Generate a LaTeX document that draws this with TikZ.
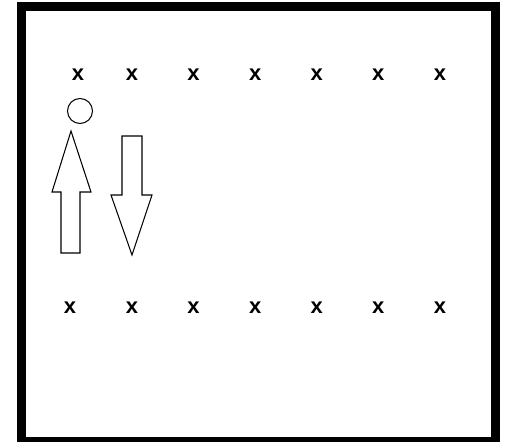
\documentclass[tikz,border=0pt]{standalone}
\usepackage{fontspec}
\setmainfont{Liberation Sans}
\usepackage{tikz}
\usetikzlibrary{positioning}

\begin{document}
\begin{tikzpicture}[
  x=0.02cm, y=-0.02cm,
  node distance=1.232cm and 1.232cm,
  seat/.style={inner sep=0pt, font=\fontsize{12.5}{14}\selectfont\bfseries},
  room/.style={draw=black, line width=0.18cm},
  thin/.style={draw=black, line width=0.6pt, fill=white},
]
\useasboundingbox (0,0) rectangle (505,442);

% Room walls
\draw[room] (21.5,6.5) rectangle (495.5,441.5);

% Bottom row
\node[seat] (b1) at (70,308) {x};
\node[seat] (b2) at (132,308) {x};
\node[seat, on grid, right=of b2] (b3) {x};
\node[seat, on grid, right=of b3] (b4) {x};
\node[seat, on grid, right=of b4] (b5) {x};
\node[seat, on grid, right=of b5] (b6) {x};
\node[seat, on grid, right=of b6] (b7) {x};

% Top row
\node[seat] (t1) at (78,75) {x};
\node[seat, on grid, above=4.66cm of b2] (t2) {x};
\node[seat, on grid, above=4.66cm of b3] (t3) {x};
\node[seat, on grid, above=4.66cm of b4] (t4) {x};
\node[seat, on grid, above=4.66cm of b5] (t5) {x};
\node[seat, on grid, above=4.66cm of b6] (t6) {x};
\node[seat, on grid, above=4.66cm of b7] (t7) {x};

% Person
\draw[thin] (80,111) circle (12.5);

% Walking up
\draw[thin] (71,131) -- (91,192) -- (80,192) -- (80,253) -- (61,253)
  -- (61,192) -- (52,192) -- cycle;

% Walking down
\draw[thin] (122,136) -- (142,136) -- (142,195) -- (152,195) -- (132,255)
  -- (111,195) -- (122,195) -- cycle;

\end{tikzpicture}
\end{document}
